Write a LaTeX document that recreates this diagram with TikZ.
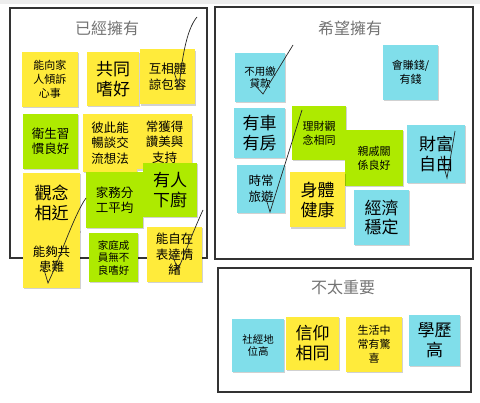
\documentclass[tikz,border=0pt]{standalone}
\usepackage{fontspec}
\setmainfont{Noto Sans CJK TC}
\usepackage{xcolor}
\usepackage{tikz}
\usetikzlibrary{positioning, shadows}
\definecolor{noteyellow}{HTML}{FFEB3B}
\definecolor{notegreen}{HTML}{AEEA00}
\definecolor{notecyan}{HTML}{80DEEA}
\definecolor{boardgrey}{HTML}{333333}

\begin{document}
\begin{tikzpicture}[x=1pt, y=-1pt,
  note/.style={minimum width=55pt, minimum height=55pt, inner sep=1pt, align=center, text=black,
    drop shadow={shadow xshift=1pt, shadow yshift=-1.2pt, fill=black, opacity=0.18}},
  ynote/.style={note, fill=noteyellow},
  gnote/.style={note, fill=notegreen},
  cnote/.style={note, fill=notecyan},
  big/.style={font=\fontsize{17}{20}\selectfont},
  mid/.style={font=\fontsize{12.5}{15.5}\selectfont},
  small/.style={font=\fontsize{11}{14}\selectfont},
  tight/.style={font=\fontsize{10.5}{12.5}\selectfont},
  group/.style={draw=boardgrey, line width=2pt},
  heading/.style={font=\fontsize{16}{18}\selectfont, text=black!55},
  pen/.style={draw=black!85, line width=0.7pt}]
  \useasboundingbox (0,0) rectangle (480,403);
  \fill[black!7] (0,0) rectangle (480,4);

  % the three boards
  \draw[group] (10,8) rectangle (207,258);
  \draw[group] (215,7) rectangle (473,259);
  \draw[group] (218,268) rectangle (471,392);
  \node[heading] (haveTitle) at (107,28) {已經擁有};
  \node[heading] (wishTitle) at (350,28) {希望擁有};
  \node[heading] (minorTitle) at (343,287) {不太重要};

  % already have
  \node[ynote, small, minimum width=56pt] (kin) at (50,79.5) {能向家\\人傾訴\\心事};
  \node[ynote, big, minimum width=52pt, minimum height=54pt] (hobby) at (113,79) {共同\\嗜好};
  \node[ynote, mid] (tolerate) at (167.5,77) {互相體\\諒包容};
  \node[gnote, mid] (hygiene) at (50.5,141.5) {衛生習\\慣良好};
  \node[ynote, mid, minimum width=54pt, minimum height=58pt] (talk) at (110,143) {彼此能\\暢談交\\流想法};
  \node[ynote, mid] (praise) at (164.5,142) {常獲得\\讚美與\\支持};
  \node[ynote, big, minimum width=57pt, minimum height=59pt] (views) at (51.5,202.5) {觀念\\相近};
  \node[gnote, mid, minimum width=57pt, minimum height=56pt] (chores) at (114.5,200) {家務分\\工平均};
  \node[gnote, big, minimum width=54pt, minimum height=54pt] (cook) at (170,190) {有人\\下廚};
  \node[ynote, mid, minimum width=57pt, minimum height=58pt] (hardship) at (51.5,259) {能夠共\\患難};
  \node[gnote, tight, minimum width=49pt, minimum height=49pt] (habits) at (113.5,257.5) {家庭成\\員無不\\良嗜好};
  \node[ynote, mid] (express) at (174.5,254.5) {能自在\\表達情\\緒};

  % wish to have
  \node[cnote, tight, minimum width=50pt, minimum height=49pt] (noloan) at (260,77.5) {不用繳\\貸款};
  \node[cnote, small] (earn) at (410.5,72.5) {會賺錢/\\有錢};
  \node[cnote, big, minimum width=51pt, minimum height=50pt] (carhouse) at (259.5,133) {有車\\有房};
  \node[gnote, small, minimum width=54pt, minimum height=54pt] (money) at (319,133) {理財觀\\念相同};
  \node[gnote, small, minimum width=58pt, minimum height=56pt] (relatives) at (374,158) {親戚關\\係良好};
  \node[cnote, big, minimum width=58pt, minimum height=58pt] (wealth) at (436,154) {財富\\自由};
  \node[cnote, mid, minimum width=48pt, minimum height=48pt] (travel) at (261,189) {時常\\旅遊};
  \node[ynote, big] (health) at (317.5,200) {身體\\健康};
  \node[cnote, big] (economy) at (381.5,217.5) {經濟\\穩定};

  % not so important
  \node[cnote, tight, minimum width=52pt, minimum height=53pt] (status) at (258,345.5) {社經地\\位高};
  \node[ynote, big, minimum width=53pt, minimum height=53pt] (faith) at (312.5,343.5) {信仰\\相同};
  \node[ynote, small, minimum width=56pt] (surprise) at (374,344.5) {生活中\\常有驚\\喜};
  \node[cnote, big, minimum width=51pt, minimum height=51pt] (degree) at (434.5,340.5) {學歷\\高};

  % hand-drawn ticks
  \draw[pen] (174,72) -- (179,87) .. controls (182,60) and (186,30) .. (197,17);
  \draw[pen] (43,266) -- (48,283) .. controls (60,258) and (74,215) .. (86,198);
  \draw[pen] (172,254) -- (178,270) .. controls (186,250) and (196,225) .. (203,210);
  \draw[pen] (254,84) -- (263,94) -- (293,45);
  \draw[pen] (265,195) -- (270,212) -- (302,110);
  \draw[pen] (441,156) -- (447,178) -- (455,131);
\end{tikzpicture}
\end{document}
